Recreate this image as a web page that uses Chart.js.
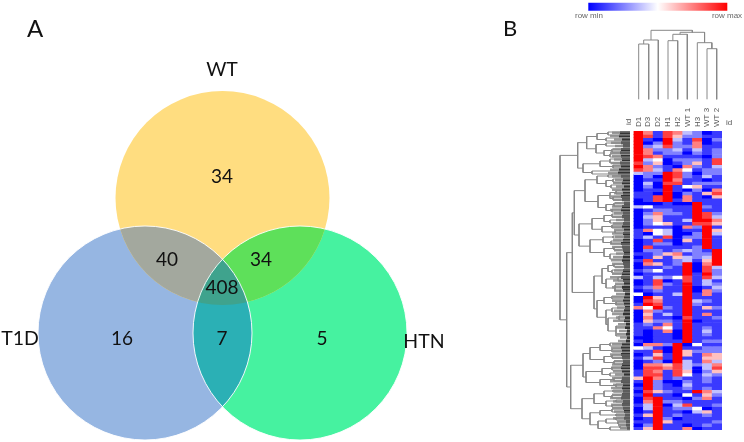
<!DOCTYPE html>
<html>
<head>
<meta charset="utf-8">
<script src="https://cdn.jsdelivr.net/npm/chart.js@4"></script>
<style>
  html, body { margin: 0; background: #fff; }
  #page { position: relative; width: 744px; height: 442px; overflow: hidden; }
  canvas { position: absolute; }
</style>
</head>
<body>
<div id="page">
  <canvas id="pageChart" width="744" height="442" style="left:0;top:0"></canvas>
  <canvas id="heatChart" width="108" height="330" style="left:623px;top:100px"></canvas>
</div>
<script>
// ---------------- Venn data ----------------
const setNames = ['WT', 'T1D', 'HTN'];
const setX = [222.5, 145, 300];
const setY = [198, 333, 333];
const setR = [107, 107, 107];
const setLabelX = [222, 20, 424];
const setLabelY = [70, 339, 342];
const regionCounts = ['34', '40', '34', '408', '16', '7', '5'];
const regionX = [222, 167, 261, 222, 122, 222, 322];
const regionY = [177, 260, 260, 288, 339, 339, 339];

// ---------------- Heatmap data ----------------
const sampleNames = ['D1', 'D3', 'D2', 'H1', 'H2', 'WT 1', 'H3', 'WT 3', 'WT 2'];
// one string per row band, one level per sample: 0 = row min, 4 = middle, 8 = row max
const heatRows = [
  '861763201', '871752211', '810831702', '802821601', '823722611', '862231312', '861220212', '876111102',
  '834022217', '725012517', '862106213', '763164122', '322872022', '020872131', '011861101', '030771222',
  '020814511', '011810206', '110802157', '117806105', '017816111', '000100811', '341111821', '012211811',
  '026221872', '035111873', '025113886', '024511775',
  '011106281', '164301185', '104300283', '131702281', '017105181', '012201181', '071111281', '022123218',
  '112561228', '015153238', '171123158', '065128068', '011218073', '124118072', '011118182', '313247173',
  '017017131', '017218132', '126118013', '012118062', '401138161', '085118111', '076118321', '187118211',
  '648218152', '062118111', '051318161', '061107112', '052218011', '121618111',
  '116418121', '101608131', '101108121', '001108111', '101118122', '066280411', '431081122', '117085222',
  '015185165', '137181155', '012083163', '066573236', '077673037', '176175025', '177174132', '586121121',
  '182002121', '082103111', '182112121', '075211863', '181104152', '078110261', '068221111', '138037112',
  '038122401', '018110351', '158121121', '018201111', '118511112', '028110121', '158116011'
];
const heatPalette = ['#0000ff', '#3a3aff', '#8080ff', '#c0c0ff', '#ffffff', '#ffc0c0', '#ff8080', '#ff4040', '#ff0000'];

// ---------------- Dendrogram data ----------------
// nested [height, first, second]; a plain number is a leaf
const columnTree = [30.3,
  [40, [44, 638.7, 648.7], 658.3],
  [32.3, [34.3, [40.7, 668, 677.7], 687.3], [42.7, 697.3, [48.7, 707, 716.7]]]
];
const rowTree = [560,
  [577.7,
    [586.7,
      [597, [608, 132, 135], [606, 138, 141]],
      [596, [606, 143, 146], [604, [612, 149, 152], [610, 154, 157]]]],
    [583,
      [600, [610, 159, 163], [613, 165, 168]],
      [592, 171, 174]]],
  [566.7,
    [572.3,
      [574.3,
        [585,
          [597, [608, 175, 177], [606, [613, 179, 182], [611, 185, 188]]],
          [598, [610, [616, 191, 194], [613, 197, 200]], [606, [614, 203, 206], [612, 209, 212]]]],
        [579,
          [592, [604, [612, 214, 217], [610, 220, 223]], [602, [612, 225, 228], [615, 231, 233]]],
          [590, [603, [613, 236, 238], [611, 241, 244]], [604, [614, 247, 250], [610, 254, 259]]]]],
      [594,
        [602, [608, [614, 264, 267], [612, 270, 273]], [606, [618, 277, 281], [615, 285, 291]]],
        [597, [604, [612, 296, 299], [616, 302, 305]], [606, [612, 308, 312], [608, [619, 316, 320], [616, 326, 336]]]]]],
    [570.7,
      [583,
        [590, [600, [610, 343, 346], [612, 349, 352]], [604, [612, 355, 358], [614, 361, 364]]],
        [586, [602, [612, 367, 370], [610, 373, 376]], [600, [614, 378, 381], [616, 384, 387]]]],
      [582,
        [594, [604, [613, 390, 392], [612, 395, 398]], [606, [616, 400, 402], [612, 405, 407]]],
        [590, [600, [612, 409, 412], [616, 414, 416]], [598, [606, [616, 418, 420], [618, 422, 424]], [610, [620, 426, 428], 430]]]]]]
];
// where the thin leaf fan turns gray and then nearly black, one value per row band
const leafGray = [
  612, 610, 614, 611, 615, 613, 610, 612, 614, 611, 613, 610, 608, 612, 615, 613, 616, 612, 614, 611, 613, 615, 612, 610,
  614, 612, 616, 613, 611, 614, 612, 615, 613, 610, 612, 614, 616, 613, 611, 612, 615, 614, 612, 610, 613, 615, 612, 614,
  616, 613, 612, 615, 617, 614, 612, 616, 613, 618, 616, 619, 617, 620, 618, 612, 611, 613, 610, 612, 614, 612, 611, 613,
  615, 612, 610, 613, 611, 614, 612, 610, 613, 611, 612, 614, 616, 613, 617, 618, 620
];
const leafDark = [
  620, 619, 622, 621, 623, 621, 620, 621, 622, 620, 621, 619, 618, 621, 623, 622, 624, 622, 623, 621, 622, 624, 622, 621,
  623, 622, 624, 623, 622, 624, 623, 624, 623, 621, 622, 623, 624, 623, 622, 623, 624, 623, 622, 621, 623, 624, 622, 623,
  625, 624, 623, 624, 625, 624, 623, 625, 624, 626, 625, 627, 626, 627, 626, 622, 621, 622, 621, 622, 623, 622, 621, 622,
  624, 622, 621, 623, 622, 623, 622, 621, 623, 622, 623, 624, 625, 624, 626, 626, 627
];

// ---------------- Color key data ----------------
const keyX = [588.3, 727.3];
const keyY = [6.7, 6.7];

// ---------------- Small text ----------------
const TREE_COLOR = '#888888';
const VENN_FONT = 'Lato, "Noto Sans", sans-serif';
const SMALL_FONT = '"Liberation Sans", Arial, sans-serif';
const regionColors = { wtT1d: '#a3a89e', wtHtn: '#5ee05a', t1dHtn: '#2bb0b5', all: '#3fa38d' };
const setColors = ['#ffdd80', '#96b6e2', '#46f2a0'];
const HEAT_TOP = 131;
const HEAT_BOTTOM = 430;

// ---------------- Helpers ----------------
function treePoints(tree, leafEnd, toPoint) {
  const points = [];
  const gap = { x: NaN, y: NaN };
  function walk(node) {
    if (typeof node === 'number') return { pos: node, level: leafEnd };
    const a = walk(node[1]);
    const b = walk(node[2]);
    const h = node[0];
    points.push(toPoint(a.level, a.pos), toPoint(h, a.pos), toPoint(h, b.pos), toPoint(b.level, b.pos), gap);
    return { pos: (a.pos + b.pos) / 2, level: h };
  }
  walk(tree);
  return points;
}

function leafPoints(starts) {
  const points = [];
  const band = (HEAT_BOTTOM - HEAT_TOP) / starts.length;
  starts.forEach((x, i) => {
    const y = HEAT_TOP + band * (i + 0.5);
    points.push({ x: x, y: y }, { x: 630, y: y }, { x: NaN, y: NaN });
  });
  return points;
}

function lineSet(points, color, width) {
  return {
    type: 'scatter', data: points, showLine: true, spanGaps: false,
    pointRadius: 0, borderColor: color, borderWidth: width, borderCapStyle: 'butt'
  };
}

// ---------------- Venn overlaps and page text ----------------
const pagePlugin = {
  id: 'pagePlugin',
  afterDatasetsDraw(chart) {
    const ctx = chart.ctx;
    const xs = chart.scales.x;
    const ys = chart.scales.y;
    const circles = setNames.map((_, i) => {
      const el = chart.getDatasetMeta(i).data[0];
      return { x: el.x, y: el.y, r: el.options.radius };
    });

    const fillOverlap = (members, color) => {
      ctx.save();
      members.forEach(i => {
        ctx.beginPath();
        ctx.arc(circles[i].x, circles[i].y, circles[i].r, 0, Math.PI * 2);
        ctx.clip();
      });
      ctx.fillStyle = color;
      ctx.fillRect(0, 0, chart.width, chart.height);
      ctx.restore();
    };
    fillOverlap([0, 1], regionColors.wtT1d);
    fillOverlap([0, 2], regionColors.wtHtn);
    fillOverlap([1, 2], regionColors.t1dHtn);
    fillOverlap([0, 1, 2], regionColors.all);

    // only the two lower circles keep a white rim
    ctx.save();
    ctx.strokeStyle = 'rgba(255,255,255,0.9)';
    ctx.lineWidth = 1;
    [1, 2].forEach(i => {
      ctx.beginPath();
      ctx.arc(circles[i].x, circles[i].y, circles[i].r, 0, Math.PI * 2);
      ctx.stroke();
    });
    ctx.restore();

    const put = (text, x, y, font, color) => {
      ctx.font = font;
      ctx.fillStyle = color;
      ctx.textAlign = 'center';
      ctx.textBaseline = 'middle';
      ctx.fillText(text, xs.getPixelForValue(x), ys.getPixelForValue(y));
    };
    regionCounts.forEach((t, i) => put(t, regionX[i], regionY[i], '19px ' + VENN_FONT, '#111'));
    setNames.forEach((t, i) => put(t, setLabelX[i], setLabelY[i], '19.5px ' + VENN_FONT, '#111'));
    put('A', 35, 29, '24px ' + VENN_FONT, '#111');
    put('B', 510, 29, '22px ' + VENN_FONT, '#111');
    put('row min', 589, 16, '8px ' + SMALL_FONT, '#666');
    put('row max', 727, 16, '8px ' + SMALL_FONT, '#666');
    put('id', 729, 123, '8px ' + SMALL_FONT, '#555');

    ctx.save();
    ctx.translate(xs.getPixelForValue(629), ys.getPixelForValue(122));
    ctx.rotate(-Math.PI / 2);
    ctx.font = '8px ' + SMALL_FONT;
    ctx.fillStyle = '#555';
    ctx.textAlign = 'center';
    ctx.textBaseline = 'middle';
    ctx.fillText('id', 0, 0);
    ctx.restore();
  }
};

// ---------------- Page chart: Venn, dendrograms, color key ----------------
const keySet = lineSet(keyX.map((x, i) => ({ x: x, y: keyY[i] })), context => {
  const { ctx, scales, chartArea } = context.chart;
  if (!chartArea) return '#ffffff';
  const g = ctx.createLinearGradient(scales.x.getPixelForValue(keyX[0]), 0, scales.x.getPixelForValue(keyX[1]), 0);
  g.addColorStop(0, '#0000ff');
  g.addColorStop(0.5, '#ffffff');
  g.addColorStop(1, '#ff0000');
  return g;
}, 8);

new Chart(document.getElementById('pageChart'), {
  data: {
    datasets: [
      ...setNames.map((name, i) => ({
        type: 'bubble', label: name,
        data: [{ x: setX[i], y: setY[i], r: setR[i] }],
        backgroundColor: setColors[i], borderWidth: 0
      })),
      lineSet(treePoints(columnTree, 99.3, (h, p) => ({ x: p, y: h })), TREE_COLOR, 1),
      lineSet(treePoints(rowTree, 630, (h, p) => ({ x: h, y: p })), TREE_COLOR, 1),
      lineSet(leafPoints(leafDark), '#333333', 3),
      lineSet(leafPoints(leafGray), '#999999', 2.5),
      keySet
    ]
  },
  options: {
    responsive: false,
    animation: false,
    events: [],
    layout: { padding: 0, autoPadding: false },
    plugins: { legend: { display: false }, tooltip: { enabled: false } },
    scales: {
      x: { type: 'linear', min: 0, max: 744, display: false },
      y: { type: 'linear', min: 0, max: 442, reverse: true, display: false }
    }
  },
  plugins: [pagePlugin]
});

// ---------------- Heatmap: one stacked bar dataset per row band ----------------
new Chart(document.getElementById('heatChart'), {
  type: 'bar',
  data: {
    labels: sampleNames,
    datasets: heatRows.map(row => ({
      data: sampleNames.map(() => 1),
      backgroundColor: row.split('').map(level => heatPalette[+level]),
      borderWidth: 0,
      barPercentage: 1,
      categoryPercentage: 1
    }))
  },
  options: {
    responsive: false,
    animation: false,
    events: [],
    layout: { padding: { left: 10.5, right: 9 }, autoPadding: false },
    plugins: { legend: { display: false }, tooltip: { enabled: false } },
    scales: {
      x: {
        position: 'top', stacked: true, offset: true,
        grid: { display: false, drawTicks: false }, border: { display: false },
        afterFit: scale => { scale.height = 31; },
        ticks: {
          autoSkip: false, minRotation: 90, maxRotation: 90, padding: 4, labelOffset: 9.5,
          color: '#555', font: { family: SMALL_FONT, size: 8 }
        }
      },
      y: { stacked: true, reverse: true, min: 0, max: heatRows.length, display: false }
    }
  }
});
</script>
</body>
</html>
